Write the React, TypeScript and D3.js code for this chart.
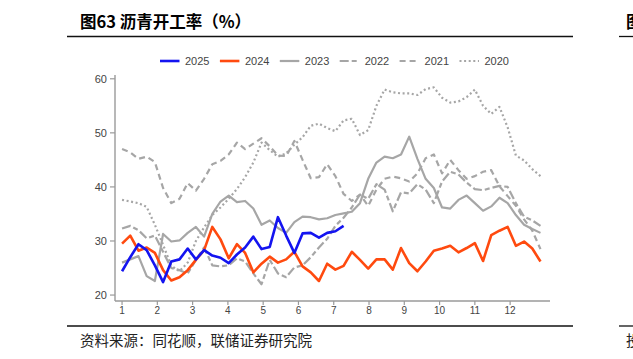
import React from 'react';
import * as d3 from 'd3';

// weekly asphalt operating rate (%), one value per week from the first week of the year
const y2025 = [24.4, 27.0, 29.4, 28.3, 25.5, 22.4, 26.2, 26.6, 28.6, 26.6, 28.3, 27.3, 26.9, 25.9,
  27.5, 28.8, 30.8, 28.5, 28.9, 34.4, 31.0, 27.8, 31.4, 31.5, 30.6, 31.5, 31.8, 32.8];

const y2024 = [29.5, 31.0, 28.2, 28.8, 27.8, 24.6, 22.7, 23.3, 24.6, 26.5, 28.3, 32.6, 30.3, 26.8,
  29.4, 27.8, 24.2, 25.8, 27.1, 26.0, 26.6, 28.0, 25.3, 24.2, 22.6, 25.8, 24.7, 25.4, 28.0, 26.5,
  24.9, 26.6, 26.6, 24.7, 28.7, 25.9, 24.4, 26.2, 28.2, 28.6, 29.1, 27.9, 28.7, 29.6, 26.3, 31.1,
  31.9, 32.6, 29.1, 29.9, 28.6, 26.2];

const y2023 = [26.0, 26.6, 27.2, 23.5, 22.6, 31.3, 29.9, 30.1, 31.5, 32.6, 30.8, 35.0, 37.3, 38.4,
  37.2, 37.4, 36.0, 33.0, 33.8, 32.4, 31.5, 33.5, 34.5, 34.4, 34.0, 34.2, 34.8, 35.1, 35.4, 37.0,
  41.5, 44.5, 45.6, 45.3, 46.0, 49.3, 45.2, 41.5, 39.8, 36.2, 36.0, 37.6, 38.4, 37.0, 35.6, 36.4,
  38.0, 37.0, 34.8, 33.0, 32.2, 31.5];

const y2022 = [32.3, 32.8, 32.0, 30.5, 31.0, 28.0, 25.0, 24.6, 24.0, 26.5, 28.8, 25.5, 25.3, 25.5,
  26.8, 26.2, 24.0, 22.0, 26.5, 24.0, 23.3, 25.1, 25.5, 27.0, 28.8, 30.4, 32.8, 34.3, 36.2, 38.6,
  37.8, 40.5, 39.5, 35.5, 39.0, 38.8, 40.5, 39.5, 37.0, 41.0, 42.8, 42.3, 40.8, 39.6, 39.4, 39.8,
  40.2, 40.0, 37.0, 34.5, 33.8, 32.8];

const y2021 = [47.0, 46.4, 45.2, 45.6, 44.6, 39.8, 37.0, 37.8, 40.7, 39.3, 41.5, 44.2, 44.8, 46.0,
  48.2, 47.0, 48.0, 49.0, 47.5, 45.8, 45.7, 48.5, 45.0, 41.6, 41.8, 44.2, 42.0, 38.7, 37.4, 38.6,
  36.5, 39.5, 41.5, 41.9, 41.6, 41.0, 42.5, 45.3, 46.0, 42.5, 45.0, 43.1, 41.5, 42.0, 42.8, 43.1,
  40.1, 38.3, 36.5, 34.0, 31.9, 28.5];

const y2020 = [37.6, 37.3, 37.0, 36.3, 33.0, 29.3, 25.4, 24.4, 26.0, 30.0, 32.5, 34.8, 36.2, 37.8,
  39.6, 41.8, 44.5, 48.2, 46.8, 45.6, 46.2, 47.8, 49.2, 51.3, 51.7, 50.9, 50.3, 52.3, 52.6, 49.6,
  50.5, 55.0, 58.0, 57.5, 57.3, 57.3, 57.0, 58.1, 58.4, 56.5, 55.6, 55.8, 56.6, 58.0, 55.0, 53.5,
  54.8, 51.0, 45.8, 44.9, 43.3, 42.0];

const months = [1, 2, 3, 4, 5, 6, 7, 8, 9, 10, 11, 12];
const yTicks = [20, 30, 40, 50, 60];

const series = [
  { name: '2025', values: y2025, color: '#1414f0', width: 2.6, dash: '' },
  { name: '2024', values: y2024, color: '#ff4a0f', width: 2.6, dash: '' },
  { name: '2023', values: y2023, color: '#a6a6a6', width: 2.2, dash: '' },
  { name: '2022', values: y2022, color: '#a6a6a6', width: 2.2, dash: '9,3,5,3' },
  { name: '2021', values: y2021, color: '#a6a6a6', width: 2.2, dash: '6,4' },
  { name: '2020', values: y2020, color: '#a6a6a6', width: 2.2, dash: '2,2.6' },
];

const font = '"Liberation Sans", Arial, sans-serif';
const cjk = '"Noto Sans CJK SC", sans-serif';

export default function App() {
  const W = 633;
  const H = 359;

  const x = d3.scaleLinear().domain([0.8, 13.13]).range([115, 550]);
  const y = d3.scaleLinear().domain([18.9, 60.7]).range([301, 75]);

  // week index -> fractional month position
  const weekX = (i: number) => x(1 + (i * 7) / 30.1);

  const line = d3.line<number>()
    .x((_, i) => weekX(i))
    .y((d) => y(d));

  return (
    <svg width={W} height={H} style={{ position: 'absolute', left: 0, top: 0, background: '#fff' }}>
      {/* header */}
      <text x={80} y={28} fontFamily={cjk} fontWeight={700} fontSize={16.5} fill="#000">图63 沥青开工率（%）</text>
      <line x1={67} x2={573} y1={36.5} y2={36.5} stroke="#111" strokeWidth={1.3} />
      <text x={626} y={28} fontFamily={cjk} fontWeight={700} fontSize={16.5} fill="#000">图</text>
      <line x1={619} x2={633} y1={36.5} y2={36.5} stroke="#111" strokeWidth={1.3} />

      {/* legend */}
      {series.map((s, k) => {
        const lx = 160 + k * 59.9;
        return (
          <g key={s.name}>
            <line x1={lx} x2={lx + 19.5} y1={61} y2={61} stroke={s.color}
              strokeWidth={s.width} strokeDasharray={s.dash || undefined} />
            <text x={lx + 25} y={65} fontFamily={font} fontSize={11} fill="#444">{s.name}</text>
          </g>
        );
      })}

      {/* y axis */}
      <line x1={115} x2={115} y1={75} y2={301} stroke="#9a9a9a" strokeWidth={1.4} />
      {yTicks.map((t) => (
        <g key={t}>
          <line x1={110} x2={115} y1={y(t)} y2={y(t)} stroke="#9a9a9a" strokeWidth={1.2} />
          <text x={107} y={y(t) + 4} textAnchor="end" fontFamily={font} fontSize={11} fill="#444">{t}</text>
        </g>
      ))}

      {/* x axis */}
      <line x1={115} x2={550} y1={301} y2={301} stroke="#9a9a9a" strokeWidth={1.4} />
      {months.map((m) => (
        <g key={m}>
          <line x1={x(m)} x2={x(m)} y1={301} y2={305} stroke="#9a9a9a" strokeWidth={1.2} />
          <text x={x(m)} y={314} textAnchor="middle" fontFamily={font} fontSize={10} fill="#444">{m}</text>
        </g>
      ))}

      {/* series, oldest drawn first */}
      {[...series].reverse().map((s) => (
        <path key={s.name} d={line(s.values) || ''} fill="none" stroke={s.color}
          strokeWidth={s.width} strokeDasharray={s.dash || undefined} strokeLinejoin="round" />
      ))}

      {/* footer */}
      <line x1={67} x2={573} y1={326} y2={326} stroke="#111" strokeWidth={1.3} />
      <line x1={619} x2={633} y1={326} y2={326} stroke="#111" strokeWidth={1.3} />
      <text x={80} y={346} fontFamily={cjk} fontSize={14.5} fill="#222">资料来源：同花顺，联储证券研究院</text>
      <text x={626} y={346} fontFamily={cjk} fontSize={14.5} fill="#222">投</text>
    </svg>
  );
}
